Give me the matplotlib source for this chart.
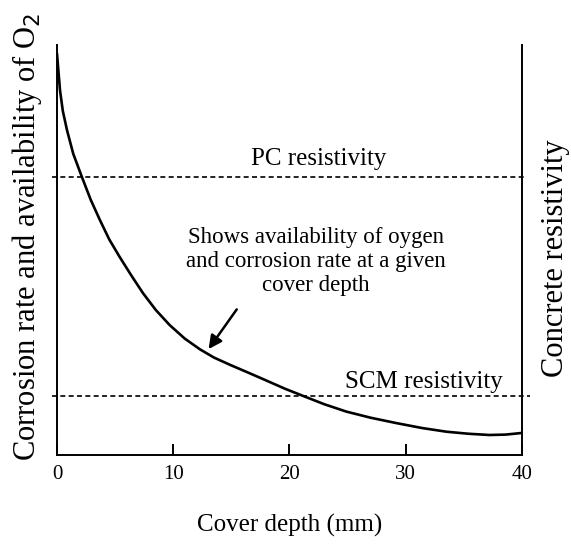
import matplotlib
matplotlib.use("Agg")
import matplotlib.pyplot as plt

plt.rcParams['font.family'] = ['Liberation Serif', 'DejaVu Serif']

# Curve (cover depth mm, relative corrosion rate / O2 availability)
depth = [0.0, 0.1, 0.26, 0.5, 0.86, 1.4, 2.15, 2.9, 3.7, 4.5, 5.4, 6.4, 7.4, 8.5, 9.7,
         11.0, 12.3, 13.5, 14.9, 16.3, 18.0, 19.6, 21.2, 23.0, 24.9, 27.0, 29.2,
         31.4, 33.5, 35.4, 37.2, 38.6, 40.0]
rate = [98.0, 94.5, 89.0, 84.0, 79.3, 73.5, 67.8, 62.3, 57.3, 52.6, 48.3, 43.8, 39.5, 35.4, 31.7,
        28.4, 25.8, 23.8, 22.0, 20.3, 18.2, 16.2, 14.4, 12.4, 10.6, 9.1, 7.8,
        6.6, 5.7, 5.2, 4.9, 5.0, 5.4]

pc_resistivity = 67.8
scm_resistivity = 14.4

x_ticks = [0, 10, 20, 30, 40]
x_label = "Cover depth (mm)"
y_label = "Corrosion rate and availability of O$_2$"
y2_label = "Concrete resistivity"
annotation = "Shows availability of oygen\nand corrosion rate at a given\ncover depth"

fig = plt.figure(figsize=(5.71, 5.45), dpi=100)
ax = fig.add_axes([0.0998, 0.165, 0.8144, 0.752])

ax.plot(depth, rate, color='black', lw=1.9, solid_joinstyle='round', solid_capstyle='round')
ax.axhline(pc_resistivity, xmin=-0.01, xmax=1.01, color='black', ls=(0, (3, 2)), lw=1.2, clip_on=False)
ax.axhline(scm_resistivity, xmin=-0.01, xmax=1.017, color='black', ls=(0, (3, 2)), lw=1.2, clip_on=False)

ax.set_xlim(0, 40)
ax.set_ylim(0, 100)
ax.set_xticks(x_ticks)
ax.set_yticks([])
ax.spines['top'].set_visible(False)
for s in ['left', 'right', 'bottom']:
    ax.spines[s].set_linewidth(1.4)
ax.tick_params(axis='x', direction='in', length=8, width=1.4, labelsize=15, pad=7)

ax.set_xlabel(x_label, fontsize=18, labelpad=22)

fig.text(27 / 571, 1 - 237 / 545, y_label, rotation=90, fontsize=22, ha='center', va='center')
fig.text(556 / 571, 1 - 258 / 545, y2_label, rotation=90, fontsize=22, ha='center', va='center')

ax.text(22.5, 70.8, "PC resistivity", fontsize=18, ha='center', va='baseline')
ax.text(31.6, 16.3, "SCM resistivity", fontsize=18, ha='center', va='baseline')
ax.text(22.3, 47.3, annotation, fontsize=16.5, ha='center', va='center', linespacing=1.2)
ax.annotate("", xy=(12.9, 25.3), xytext=(15.6, 36.1),
            arrowprops=dict(arrowstyle='-|>', color='black', lw=1.8, mutation_scale=20))

fig.savefig("out.png", dpi=100)
